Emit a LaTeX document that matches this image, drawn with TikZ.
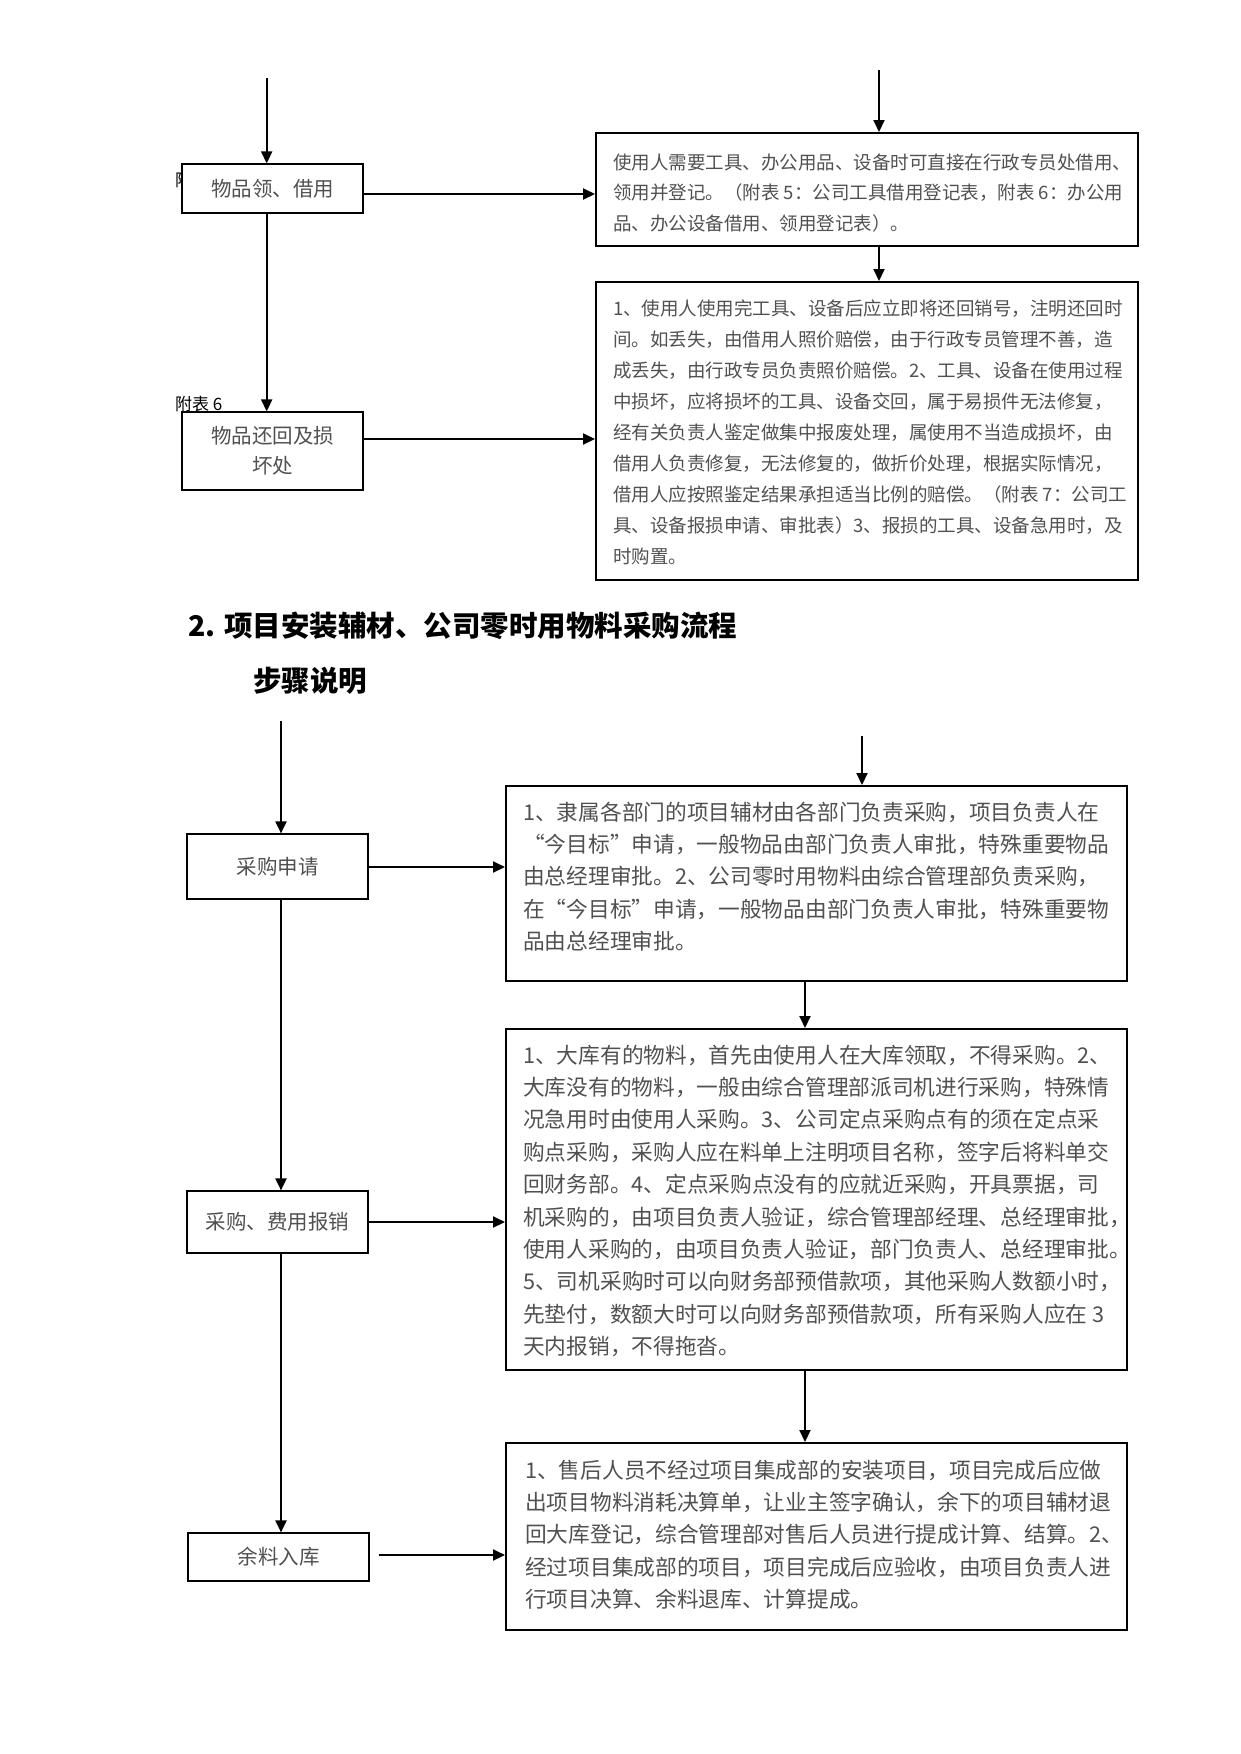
\documentclass[tikz,border=0pt]{standalone}
\usepackage{fontspec}
\setmainfont{Noto Sans CJK SC}
\usetikzlibrary{arrows.meta}
\definecolor{txt}{HTML}{505050}
\begin{document}
\begin{tikzpicture}[x=1pt,y=-1pt,
  lbl/.style={draw=black, line width=1.2pt, fill=white, minimum width=181pt, inner sep=0pt, text=txt, align=center, font=\fontsize{20.5}{30}\selectfont},
  tbox/.style={draw=black, line width=2pt, inner sep=0pt},
  arr/.style={line width=2pt, -{Triangle[length=12pt,width=11pt]}},
  bodyA/.style={anchor=base west, inner sep=0pt, text=txt, font=\fontsize{18.5}{30.8}\selectfont},
  bodyB/.style={anchor=base west, inner sep=0pt, text=txt, font=\fontsize{21.7}{32.4}\selectfont},
  note/.style={anchor=base west, inner sep=0pt, text=black, font=\fontsize{17}{18}\selectfont},
  head/.style={anchor=base west, inner sep=0pt, text=black, font=\fontsize{28.5}{32}\selectfont\bfseries}
]
\useasboundingbox (0,0) rectangle (1241,1754);

% ---------- section 1 ----------
\node[note] (n5) at (175,186) {附};
\node[note] (n6) at (175,410) {附表 6};
\node[lbl, minimum height=49pt] (b1) at (272.5,188.5) {物品领、借用};
\node[lbl, minimum height=78pt] (b2) at (272.5,451) {物品还回及损\\坏处};

\node[tbox, minimum width=542pt, minimum height=113pt] (tb1) at (867,189.5) {};
\node[tbox, minimum width=542pt, minimum height=298pt] (tb2) at (867,431) {};

\node[bodyA] (t1) at (613,169) {\vtop{%
\hbox{使用人需要工具、办公用品、设备时可直接在行政专员处借用、}
\hbox{领用并登记。（附表 5：公司工具借用登记表，附表 6：办公用}
\hbox{品、办公设备借用、领用登记表）。}}};

\node[bodyA, font=\fontsize{18.5}{31.1}\selectfont] (t2) at (613,315) {\vtop{%
\hbox{1、使用人使用完工具、设备后应立即将还回销号，注明还回时}
\hbox{间。如丢失，由借用人照价赔偿，由于行政专员管理不善，造}
\hbox{成丢失，由行政专员负责照价赔偿。2、工具、设备在使用过程}
\hbox{中损坏，应将损坏的工具、设备交回，属于易损件无法修复，}
\hbox{经有关负责人鉴定做集中报废处理，属使用不当造成损坏，由}
\hbox{借用人负责修复，无法修复的，做折价处理，根据实际情况，}
\hbox{借用人应按照鉴定结果承担适当比例的赔偿。（附表 7：公司工}
\hbox{具、设备报损申请、审批表）3、报损的工具、设备急用时，及}
\hbox{时购置。}}};

\coordinate (s1L) at (266.7,78);
\coordinate (s1R) at (879,70);
\coordinate (y1a) at (0,194);
\coordinate (y1b) at (0,439);

\draw[arr] (s1L) -- (s1L |- b1.north);
\draw[arr] (b1.south -| s1L) -- (b2.north -| s1L);
\draw[arr] (b1.east |- y1a) -- (tb1.west |- y1a);
\draw[arr] (b2.east |- y1b) -- (tb2.west |- y1b);
\draw[arr] (s1R) -- (s1R |- tb1.north);
\draw[arr] (tb1.south -| s1R) -- (tb2.north -| s1R);

% ---------- section 2 ----------
\node[head] (h1) at (188,636) {2. 项目安装辅材、公司零时用物料采购流程};
\node[head] (h2) at (253,691) {步骤说明};

\node[lbl, minimum height=65pt] (bA) at (277.5,866.5) {采购申请};
\node[lbl, minimum height=62pt] (bB) at (277.5,1222) {采购、费用报销};
\node[lbl, minimum height=48pt] (bC) at (278.5,1557) {余料入库};

\node[tbox, minimum width=621pt, minimum height=195pt] (tbA) at (816.5,883.5) {};
\node[tbox, minimum width=621pt, minimum height=341pt] (tbB) at (816.5,1199.5) {};
\node[tbox, minimum width=621pt, minimum height=187pt] (tbC) at (816.5,1536.5) {};

\node[bodyB] (tA) at (523,820) {\vtop{%
\hbox{1、隶属各部门的项目辅材由各部门负责采购，项目负责人在}
\hbox{“今目标”申请，一般物品由部门负责人审批，特殊重要物品}
\hbox{由总经理审批。2、公司零时用物料由综合管理部负责采购，}
\hbox{在“今目标”申请，一般物品由部门负责人审批，特殊重要物}
\hbox{品由总经理审批。}}};

\node[bodyB] (tB) at (523,1063) {\vtop{%
\hbox{1、大库有的物料，首先由使用人在大库领取，不得采购。2、}
\hbox{大库没有的物料，一般由综合管理部派司机进行采购，特殊情}
\hbox{况急用时由使用人采购。3、公司定点采购点有的须在定点采}
\hbox{购点采购，采购人应在料单上注明项目名称，签字后将料单交}
\hbox{回财务部。4、定点采购点没有的应就近采购，开具票据，司}
\hbox{机采购的，由项目负责人验证，综合管理部经理、总经理审批，}
\hbox{使用人采购的，由项目负责人验证，部门负责人、总经理审批。}
\hbox{5、司机采购时可以向财务部预借款项，其他采购人数额小时，}
\hbox{先垫付，数额大时可以向财务部预借款项，所有采购人应在 3}
\hbox{天内报销，不得拖沓。}}};

\node[bodyB] (tC) at (525,1478) {\vtop{%
\hbox{1、售后人员不经过项目集成部的安装项目，项目完成后应做}
\hbox{出项目物料消耗决算单，让业主签字确认，余下的项目辅材退}
\hbox{回大库登记，综合管理部对售后人员进行提成计算、结算。2、}
\hbox{经过项目集成部的项目，项目完成后应验收，由项目负责人进}
\hbox{行项目决算、余料退库、计算提成。}}};

\coordinate (s2L) at (281,721);
\coordinate (s2R) at (862,736);
\coordinate (c2) at (805,0);
\coordinate (y2a) at (0,867);
\coordinate (y2b) at (0,1222);
\coordinate (y2c) at (0,1555);

\draw[arr] (s2L) -- (s2L |- bA.north);
\draw[arr] (bA.south -| s2L) -- (bB.north -| s2L);
\draw[arr] (bB.south -| s2L) -- (bC.north -| s2L);
\draw[arr] (bA.east |- y2a) -- (tbA.west |- y2a);
\draw[arr] (bB.east |- y2b) -- (tbB.west |- y2b);
\draw[arr, shorten <=9pt] (bC.east |- y2c) -- (tbC.west |- y2c);
\draw[arr] (s2R) -- (s2R |- tbA.north);
\draw[arr] (tbA.south -| c2) -- (tbB.north -| c2);
\draw[arr] (tbB.south -| c2) -- (tbC.north -| c2);
\end{tikzpicture}
\end{document}
